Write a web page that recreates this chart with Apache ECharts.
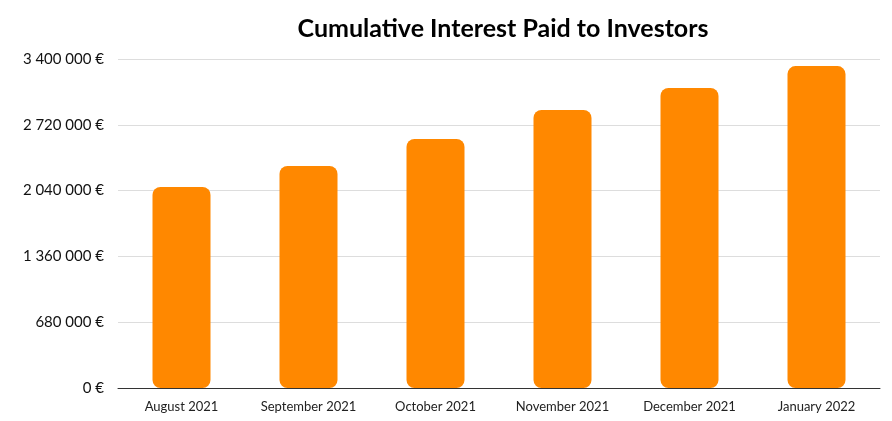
<!DOCTYPE html>
<html>
<head>
<meta charset="utf-8">
<script src="https://cdn.jsdelivr.net/npm/echarts@6/dist/echarts.min.js"></script>
<style>html,body{margin:0;padding:0;background:#fff}#chart{width:892px;height:421px}</style>
</head>
<body>
<div id="chart"></div>
<script>
const categories = ["August 2021", "September 2021", "October 2021", "November 2021", "December 2021", "January 2022"];
const interestPaid = [2077000, 2294000, 2573000, 2873000, 3100000, 3327000];

const fmt = (v) => String(v).replace(/\B(?=(\d{3})+(?!\d))/g, " ") + " €";

const chart = echarts.init(document.getElementById("chart"));
chart.setOption({
  title: {
    text: "Cumulative Interest Paid to Investors",
    left: 498, top: 11, textAlign: "center",
    textStyle: { fontFamily: "Lato", fontWeight: "bold", fontSize: 25, color: "#000" }
  },
  grid: { left: 118, right: 12, top: 59, bottom: 33 },
  xAxis: {
    type: "category",
    data: categories,
    axisTick: { show: false },
    axisLine: { lineStyle: { color: "#333" } },
    axisLabel: { color: "#222", fontFamily: "Lato", fontSize: 13, margin: 12 }
  },
  yAxis: {
    type: "value",
    min: 0, max: 3400000, interval: 680000,
    axisLine: { show: false },
    axisTick: { show: false },
    splitLine: { lineStyle: { color: "#ddd" } },
    axisLabel: { color: "#111", fontFamily: "Lato", fontSize: 15, margin: 14, formatter: fmt }
  },
  series: [{
    type: "bar",
    data: interestPaid,
    barWidth: 58,
    itemStyle: { color: "#ff8800", borderRadius: 8 }
  }]
});
</script>
</body>
</html>
